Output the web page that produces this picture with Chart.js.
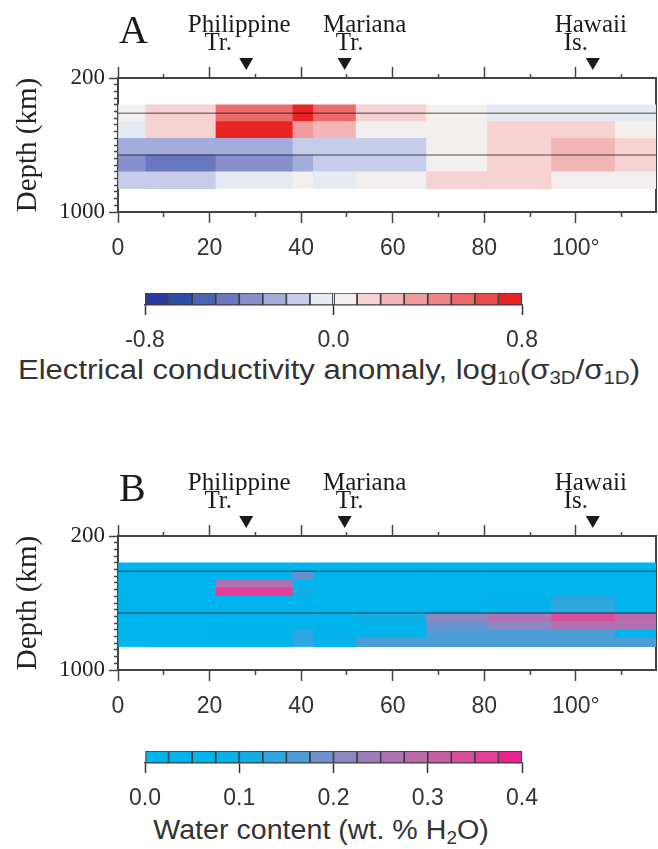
<!DOCTYPE html>
<html>
<head>
<meta charset="utf-8">
<title>Conductivity anomaly and water content sections</title>
<script src="https://cdn.jsdelivr.net/npm/chart.js@4.4.1/dist/chart.umd.min.js"></script>
<style>
  html, body { margin: 0; padding: 0; background: #fff; }
  #page { position: relative; width: 658px; height: 849px; overflow: hidden; background: #fff; }
  canvas { position: absolute; left: 0; }
  .cbtitle { position: absolute; left: 0; width: 658px; text-align: center; font-family: "Liberation Sans", Arial, sans-serif; font-size: 27px; line-height: 30px; color: #333; white-space: nowrap; }
  .cbtitle sub { font-size: 0.66em; line-height: 0; vertical-align: -0.3em; }
</style>
</head>
<body>
<div id="page">
  <canvas id="heatA" width="658" height="262" style="top:0px"></canvas>
  <canvas id="barA" width="658" height="70" style="top:280px"></canvas>
  <div class="cbtitle" style="top:355px; transform: scaleX(1.15);">Electrical conductivity anomaly, log<sub>10</sub>(σ<sub>3D</sub>/σ<sub>1D</sub>)</div>
  <canvas id="heatB" width="658" height="262" style="top:458px"></canvas>
  <canvas id="barB" width="658" height="70" style="top:738px"></canvas>
  <div class="cbtitle" style="top:815px; left:-8px; transform: scaleX(1.06);">Water content (wt. % H<sub>2</sub>O)</div>
</div>
<script>
// model cell edges along the section (degrees) and in depth (km)
const lonEdges = [0, 6.1, 21.4, 38.2, 42.7, 52.0, 67.4, 80.7, 94.7, 108.6, 117.5];
const depthEdgesA = [360, 460, 560, 660, 760, 860];
const depthEdgesB = [360, 410, 460, 510, 560, 610, 660, 710, 760, 810, 860];

// log10(sigma3D / sigma1D), one row per layer (top to bottom)
const anomaly = [
  [ 0.05,  0.15,  0.55,  0.75,  0.55,  0.15, 0.05, -0.05, -0.05, -0.05],
  [-0.05,  0.15,  0.75,  0.35,  0.25,  0.05, 0.05,  0.15,  0.15,  0.05],
  [-0.25, -0.25, -0.25, -0.15, -0.15, -0.15, 0.05,  0.15,  0.25,  0.15],
  [-0.35, -0.45, -0.35, -0.25, -0.15, -0.15, 0.05,  0.15,  0.25,  0.15],
  [-0.15, -0.15, -0.05,  0.05, -0.05,  0.05, 0.15,  0.15,  0.05,  0.05]
];

// water content, wt.% H2O
const water = [
  [0.01, 0.01, 0.01,  0.01, 0.01, 0.01, 0.01, 0.01, 0.01, 0.01],
  [0.01, 0.01, 0.01,  0.19, 0.01, 0.01, 0.01, 0.01, 0.01, 0.01],
  [0.01, 0.01, 0.26,  0.01, 0.01, 0.01, 0.01, 0.01, 0.01, 0.01],
  [0.01, 0.01, 0.37,  0.11, 0.06, 0.01, 0.01, 0.01, 0.01, 0.01],
  [0.01, 0.01, 0.01,  0.01, 0.01, 0.01, 0.01, 0.08, 0.13, 0.01],
  [0.01, 0.01, 0.01,  0.01, 0.01, 0.01, 0.01, 0.08, 0.13, 0.01],
  [0.01, 0.01, 0.01,  0.06, 0.04, 0.11, 0.20, 0.26, 0.33, 0.28],
  [0.01, 0.01, 0.01,  0.06, 0.04, 0.04, 0.18, 0.22, 0.25, 0.25],
  [0.01, 0.01, 0.06,  0.13, 0.09, 0.06, 0.16, 0.16, 0.16, 0.04],
  [0.01, 0.01, 0.06,  0.13, 0.09, 0.16, 0.16, 0.16, 0.16, 0.16]
];

const discontinuities = [410, 660];
const trenchLon = [28.0, 49.5, 103.7];
const trenchName = ['Philippine', 'Mariana', 'Hawaii'];
const trenchSub = ['Tr.', 'Tr.', 'Is.'];

const lonLabelTicks = [0, 20, 40, 60, 80, 100];
const lonLabels = ['0', '20', '40', '60', '80', '100°'];
const lonMinorTicks = [10, 30, 50, 70, 90, 110];
const depthLabelTicks = [200, 1000];
const depthLabels = ['200', '1000'];
const depthMinorTicks = [240, 280, 320, 360, 400, 440, 480, 520, 560, 600, 640, 680, 720, 760, 800, 840, 880, 920, 960];

const condRange = [-0.8, 0.8];
const condTicks = [-0.8, 0.0, 0.8];
const condLabels = ['-0.8', '0.0', '0.8'];
const waterRange = [0, 0.4];
const waterTicks = [0, 0.1, 0.2, 0.3, 0.4];
const waterLabels = ['0.0', '0.1', '0.2', '0.3', '0.4'];

// 16-step palettes of the two colour bars
const condColors = ['#2b3a9e', '#2c4da8', '#4a64b4', '#6878bf', '#8590ca', '#a3addc', '#c6ccea', '#e6eaf3',
                    '#f3efef', '#f6d2d2', '#f3b6b6', '#f19c9c', '#ef8585', '#ec6a6a', '#e94a4a', '#e82525'];
const waterColors = ['#00b5ee', '#00b5ee', '#02b4ec', '#06b2ea', '#12afe6', '#2ea7e0', '#4c9cd6', '#6c90cc',
                     '#8c86c2', '#9e7cba', '#ae72b2', '#bc68aa', '#ca5ca2', '#d84e9c', '#e43e96', '#ec2290'];

const SERIF = '"Liberation Serif", "Times New Roman", serif';
const SANS = '"Liberation Sans", Arial, sans-serif';
const INK = '#333';
const FRAME = '#444';
// label nudges (px) relative to each triangle: [name line, sub line]
const labelShift = [[-7, -28], [20, 5], [-2, -17]];

function binColor(v, range, colors) {
  const n = colors.length;
  const i = Math.floor((v - range[0]) / (range[1] - range[0]) * n);
  return colors[Math.max(0, Math.min(n - 1, i))];
}

function tickList(values) {
  return values.map(v => ({ value: v }));
}

function overlay(letter) {
  return {
    id: 'overlay' + letter,
    afterDraw(chart) {
      const { ctx, chartArea, scales } = chart;
      const top = chartArea.top;
      ctx.save();
      ctx.fillStyle = '#1a1a1a';
      ctx.textBaseline = 'alphabetic';
      ctx.textAlign = 'left';
      ctx.font = '40px ' + SERIF;
      ctx.fillText(letter, chartArea.left + 1, top - 35);
      ctx.font = '25px ' + SERIF;
      ctx.textAlign = 'center';
      trenchLon.forEach((lon, i) => {
        const x = scales.x.getPixelForValue(lon);
        ctx.fillText(trenchName[i], x + labelShift[i][0], top - 46);
        ctx.fillText(trenchSub[i], x + labelShift[i][1], top - 28);
        ctx.beginPath();
        ctx.moveTo(x - 7, top - 20);
        ctx.lineTo(x + 7, top - 20);
        ctx.lineTo(x, top - 8);
        ctx.closePath();
        ctx.fill();
      });
      ctx.restore();
    }
  };
}

function heatmap(id, letter, rowEdges, grid, range, colors) {
  const cells = [];
  grid.forEach((row, r) => row.forEach((v, c) => {
    cells.push({ y: (rowEdges[r] + rowEdges[r + 1]) / 2, x: [lonEdges[c], lonEdges[c + 1]], v: v });
  }));
  const lonMax = lonEdges[lonEdges.length - 1];
  const lonTicks = lonLabelTicks.concat(lonMinorTicks).sort((a, b) => a - b);
  const depthTicks = depthLabelTicks.concat(depthMinorTicks).sort((a, b) => a - b);
  const isMajorLon = ctx => ctx.tick && lonLabelTicks.includes(ctx.tick.value);

  const lines = discontinuities.map(d => ({
    type: 'line',
    data: [{ x: lonEdges[0], y: d }, { x: lonMax, y: d }],
    xAxisID: 'x', yAxisID: 'y',
    borderColor: 'rgba(0,0,0,0.45)', borderWidth: 1.6, pointRadius: 0, order: 0
  }));

  return new Chart(document.getElementById(id), {
    type: 'bar',
    data: {
      datasets: [{
        type: 'bar', indexAxis: 'y', data: cells, xAxisID: 'x', yAxisID: 'yb',
        backgroundColor: cells.map(c => binColor(c.v, range, colors)),
        borderWidth: 0, barPercentage: 1, categoryPercentage: 1, order: 1
      }].concat(lines)
    },
    options: {
      responsive: false, animation: false, events: [],
      layout: { padding: 0 },
      plugins: { legend: { display: false }, tooltip: { enabled: false } },
      scales: {
        x: {
          type: 'linear', position: 'bottom', min: 0, max: lonMax, offset: false, beginAtZero: false,
          afterBuildTicks: s => { s.ticks = tickList(lonTicks); },
          ticks: {
            autoSkip: false, maxRotation: 0, padding: 12, color: INK, font: { family: SANS, size: 23 },
            callback: v => { const k = lonLabelTicks.indexOf(v); return k < 0 ? '' : lonLabels[k]; }
          },
          grid: {
            offset: false, drawOnChartArea: false, tickLength: 11, tickColor: FRAME, tickWidth: 1.5,
            tickBorderDash: ctx => isMajorLon(ctx) ? [] : [4, 30]
          },
          border: { color: FRAME, width: 2 },
          afterFit: s => { s.height = 50; }
        },
        xt: {
          type: 'linear', position: 'top', min: 0, max: lonMax, offset: false, beginAtZero: false,
          afterBuildTicks: s => { s.ticks = tickList(lonTicks); },
          ticks: { display: false },
          grid: {
            offset: false, drawOnChartArea: false, tickLength: 11, tickColor: FRAME, tickWidth: 1.5,
            tickBorderDash: ctx => isMajorLon(ctx) ? [] : [0, 7, 4, 30]
          },
          border: { color: FRAME, width: 2 },
          afterFit: s => { s.height = 78; }
        },
        y: {
          type: 'linear', position: 'left', min: 200, max: 1000, reverse: true, beginAtZero: false, offset: false,
          afterBuildTicks: s => { s.ticks = tickList(depthTicks); },
          ticks: {
            autoSkip: false, padding: 4, color: '#222', font: { family: SERIF, size: 23 },
            callback: v => { const k = depthLabelTicks.indexOf(v); return k < 0 ? '' : depthLabels[k]; }
          },
          grid: {
            offset: false, drawOnChartArea: false, tickLength: 9, tickColor: FRAME, tickWidth: 1.5,
            tickBorderDash: ctx => (ctx.tick && depthLabelTicks.includes(ctx.tick.value)) ? [] : [0, 5, 4, 30]
          },
          border: { color: FRAME, width: 2 },
          title: {
            display: true, text: 'Depth (km)', color: '#222',
            font: { family: SERIF, size: 29 }, padding: { top: 11, bottom: 0 }
          },
          afterFit: s => { s.width = 118; }
        },
        yr: {
          type: 'linear', position: 'right', min: 200, max: 1000, reverse: true, beginAtZero: false, offset: false,
          ticks: { display: false },
          grid: { offset: false, drawOnChartArea: false, drawTicks: false },
          border: { color: FRAME, width: 2 },
          afterFit: s => { s.width = 2; }
        },
        // invisible axis carrying the cells (coarse ticks keep the full row thickness)
        yb: {
          type: 'linear', position: 'left', min: 200, max: 1000, reverse: true, beginAtZero: false, offset: false,
          afterBuildTicks: s => { s.ticks = tickList(depthLabelTicks); },
          ticks: { display: false },
          grid: { offset: false, display: false, drawTicks: false },
          border: { display: false },
          afterFit: s => { s.width = 0; }
        }
      }
    },
    plugins: [overlay(letter)]
  });
}

function colorbar(id, range, colors, tickVals, labels) {
  const step = (range[1] - range[0]) / colors.length;
  const bins = colors.map((c, i) => ({ y: 'cb', x: [range[0] + i * step, range[0] + (i + 1) * step] }));
  return new Chart(document.getElementById(id), {
    type: 'bar',
    data: {
      labels: ['cb'],
      datasets: [{
        data: bins, backgroundColor: colors, borderColor: '#3c3c3c', borderWidth: 1.2,
        borderSkipped: false, barPercentage: 1, categoryPercentage: 1
      }]
    },
    options: {
      indexAxis: 'y', responsive: false, animation: false, events: [],
      layout: { padding: { top: 13, left: 145, right: 136, bottom: 0 } },
      plugins: { legend: { display: false }, tooltip: { enabled: false } },
      scales: {
        y: { type: 'category', display: false },
        x: {
          type: 'linear', position: 'bottom', min: range[0], max: range[1], beginAtZero: false,
          afterBuildTicks: s => { s.ticks = tickList(tickVals); },
          ticks: {
            autoSkip: false, maxRotation: 0, padding: 12, color: INK, font: { family: SANS, size: 23 },
            callback: v => labels[tickVals.indexOf(v)]
          },
          grid: { drawOnChartArea: false, tickLength: 10, tickColor: '#333', tickWidth: 1.5 },
          border: { color: '#3c3c3c', width: 1.5 },
          afterFit: s => { s.height = 45; }
        }
      }
    }
  });
}

heatmap('heatA', 'A', depthEdgesA, anomaly, condRange, condColors);
colorbar('barA', condRange, condColors, condTicks, condLabels);
heatmap('heatB', 'B', depthEdgesB, water, waterRange, waterColors);
colorbar('barB', waterRange, waterColors, waterTicks, waterLabels);
</script>
</body>
</html>
